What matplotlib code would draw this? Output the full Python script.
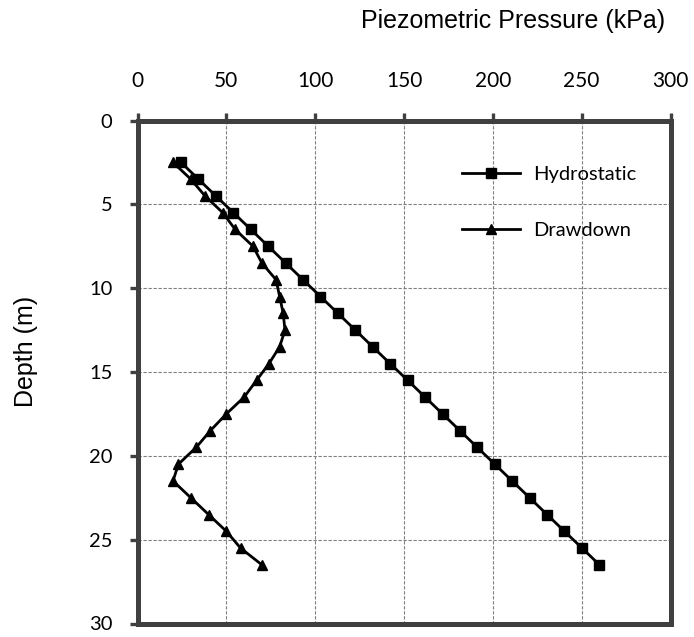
import matplotlib.pyplot as plt
import numpy as np

depth = [2.5, 3.5, 4.5, 5.5, 6.5, 7.5, 8.5, 9.5, 10.5, 11.5, 12.5, 13.5, 14.5,
         15.5, 16.5, 17.5, 18.5, 19.5, 20.5, 21.5, 22.5, 23.5, 24.5, 25.5, 26.5]
hydrostatic = [24.5, 34.3, 44.1, 54.0, 63.8, 73.6, 83.4, 93.2, 103.0, 112.8, 122.6,
               132.4, 142.2, 152.1, 161.9, 171.7, 181.5, 191.3, 201.1, 210.9, 220.7,
               230.5, 240.3, 250.2, 260.0]
drawdown = [20, 30, 38, 48, 55, 65, 70, 78, 80, 82, 83, 80, 74, 67, 60, 50, 41,
            33, 23, 20, 30, 40, 50, 58, 70]

x_ticks = [0, 50, 100, 150, 200, 250, 300]
y_ticks = [0, 5, 10, 15, 20, 25, 30]

W, H = 694, 637
fig = plt.figure(figsize=(W / 100, H / 100), dpi=100)
ax = fig.add_axes([137.5 / W, 1 - 623.5 / H, 533 / W, 503 / H])

ax.plot(hydrostatic, depth, color="black", lw=2, marker="s", ms=6.5,
        label="Hydrostatic")
ax.plot(drawdown, depth, color="black", lw=2, marker="^", ms=7,
        label="Drawdown")

ax.set_xlim(0, 300)
ax.set_ylim(30, 0)
ax.set_xticks(x_ticks)
ax.set_yticks(y_ticks)
ax.xaxis.tick_top()
ax.grid(True, color="#808080", ls=(0, (3, 1.5)), lw=0.8)

spine_c = "#404040"
for s in ax.spines.values():
    s.set_linewidth(3.6)
    s.set_color(spine_c)
ax.tick_params(axis="both", length=5.5, width=2.4, color=spine_c,
               labelsize=15, labelcolor="black")
ax.tick_params(axis="x", pad=15.5)
ax.tick_params(axis="y", pad=12.5, labelsize=14.5)
for lab in ax.get_xticklabels() + ax.get_yticklabels():
    lab.set_family(["Lato", "DejaVu Sans"])

fig.text(665 / W, 1 - 28 / H, "Piezometric Pressure (kPa)", ha="right",
         va="baseline", fontsize=18, family="Liberation Sans")
fig.text(26 / W, 1 - 351 / H, "Depth (m)", rotation=90, ha="center",
         va="center", fontsize=18, family="Liberation Sans")

leg = ax.legend(loc="upper left", bbox_to_anchor=(0.574, 0.945), frameon=False,
                labelspacing=1.92, handlelength=2.9, handletextpad=0.63,
                prop={"family": "Lato", "size": 14.5})

fig.savefig("out.png", dpi=100)
